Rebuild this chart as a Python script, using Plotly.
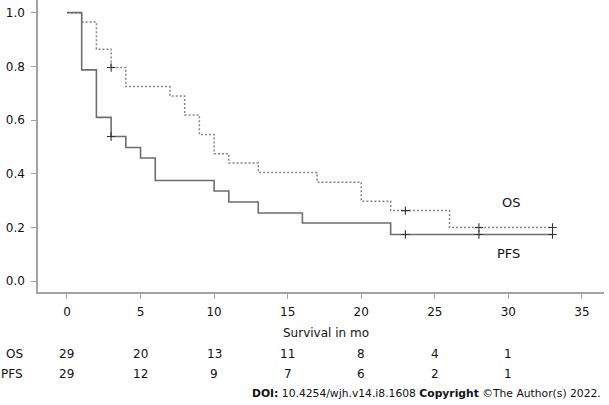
import plotly.graph_objects as go

# ---- data ----
os_times = [0, 1, 2, 3, 4, 7, 8, 9, 10, 11, 13, 17, 20, 22, 26]
os_surv = [1.0, 0.965, 0.864, 0.796, 0.725, 0.69, 0.619, 0.546, 0.475, 0.44, 0.405, 0.369, 0.298, 0.263, 0.2]
os_censor = [3, 23, 28, 33]

pfs_times = [0, 1, 2, 3, 4, 5, 6, 10, 11, 13, 16, 22]
pfs_surv = [1.0, 0.787, 0.61, 0.539, 0.498, 0.459, 0.375, 0.336, 0.295, 0.254, 0.217, 0.174]
pfs_censor = [3, 23, 28, 33]

risk_times = [0, 5, 10, 15, 20, 25, 30]
os_at_risk = [29, 20, 13, 11, 8, 4, 1]
pfs_at_risk = [29, 12, 9, 7, 6, 2, 1]

x_ticks = [0, 5, 10, 15, 20, 25, 30, 35]
y_ticks = [0.0, 0.2, 0.4, 0.6, 0.8, 1.0]

FONT = "DejaVu Sans"
AXIS_COLOR = "#a3a3a3"


def surv_at(times, surv, t):
    val = surv[0]
    for ti, si in zip(times, surv):
        if ti <= t:
            val = si
    return val


fig = go.Figure()

# OS curve (dotted)
end_os = max(os_censor)
fig.add_trace(go.Scatter(
    x=os_times + [end_os], y=os_surv + [os_surv[-1]],
    mode="lines", line=dict(shape="hv", color="#858585", width=1.5, dash="2px,2px"),
    showlegend=False, hoverinfo="skip"))
# PFS curve (solid)
end_pfs = max(pfs_censor)
fig.add_trace(go.Scatter(
    x=pfs_times + [end_pfs], y=pfs_surv + [pfs_surv[-1]],
    mode="lines", line=dict(shape="hv", color="#6e6e6e", width=1.6),
    showlegend=False, hoverinfo="skip"))

# censor marks
for times, surv, cens in [(os_times, os_surv, os_censor), (pfs_times, pfs_surv, pfs_censor)]:
    fig.add_trace(go.Scatter(
        x=cens, y=[surv_at(times, surv, c) for c in cens],
        mode="markers",
        marker=dict(symbol="cross-thin", size=6, line=dict(width=1.1, color="#333333")),
        showlegend=False, hoverinfo="skip"))

annotations = []
# curve labels
annotations.append(dict(x=30.2, y=0.293, xref="x", yref="y", text="OS", showarrow=False,
                        font=dict(family=FONT, size=13, color="#111111")))
annotations.append(dict(x=30.0, y=0.102, xref="x", yref="y", text="PFS", showarrow=False,
                        font=dict(family=FONT, size=13, color="#111111")))

# axis title
annotations.append(dict(x=0.508, y=-0.140, xref="paper", yref="paper", text="Survival in mo",
                        showarrow=False, yanchor="middle",
                        font=dict(family=FONT, size=12, color="#111111")))

# numbers at risk
for label, vals, ypos in [("OS", os_at_risk, -0.211), ("PFS", pfs_at_risk, -0.280)]:
    annotations.append(dict(x=-0.0224, y=ypos, xref="paper", yref="paper", text=label,
                            showarrow=False, xanchor="right", yanchor="middle",
                            font=dict(family=FONT, size=12, color="#111111")))
    for t, v in zip(risk_times, vals):
        annotations.append(dict(x=t, y=ypos, xref="x", yref="paper", text=str(v),
                                showarrow=False, yanchor="middle",
                                font=dict(family=FONT, size=12, color="#111111")))

# DOI line
annotations.append(dict(x=0.998, y=-0.348, xref="paper", yref="paper",
                        text="<b>DOI:</b> 10.4254/wjh.v14.i8.1608 <b>Copyright</b> ©The Author(s) 2022.",
                        showarrow=False, xanchor="right", yanchor="middle",
                        font=dict(family=FONT, size=10.75, color="#111111")))

fig.update_layout(
    width=609, height=405,
    margin=dict(l=38, r=5, t=0, b=113),
    paper_bgcolor="white", plot_bgcolor="white",
    font=dict(family=FONT, size=12, color="#111111"),
    annotations=annotations,
    xaxis=dict(range=[-1.97, 36.5], tickvals=x_ticks, ticks="outside", ticklen=5,
               tickcolor=AXIS_COLOR, tickwidth=1.2, showline=True, linecolor=AXIS_COLOR,
               linewidth=1.5, showgrid=False, zeroline=False, ticklabelstandoff=3,
               tickfont=dict(family=FONT, size=12, color="#111111")),
    yaxis=dict(range=[-0.04, 1.047], tickvals=y_ticks, tickformat=".1f", ticks="outside",
               ticklen=5, tickcolor=AXIS_COLOR, tickwidth=1.2, showline=True,
               linecolor=AXIS_COLOR, linewidth=1.5, showgrid=False, zeroline=False,
               ticklabelstandoff=4,
               tickfont=dict(family=FONT, size=12, color="#111111")),
)

fig.write_html("out.html", config={"displayModeBar": False},
               post_script="document.body.style.margin='0px';")
